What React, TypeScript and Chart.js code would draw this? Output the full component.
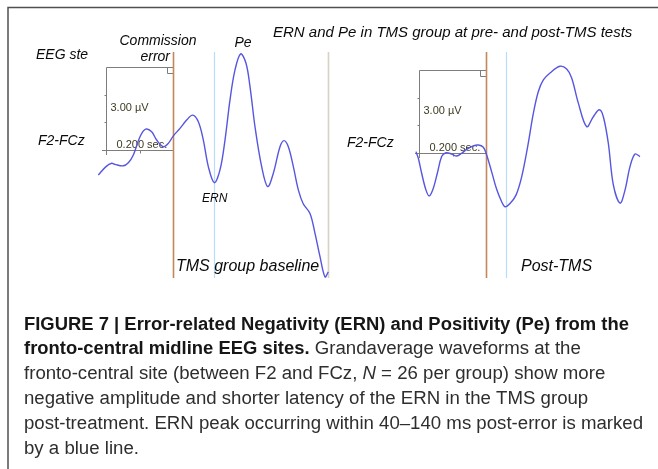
import React, { useEffect, useRef } from "react";
import { Chart, registerables } from "chart.js";

Chart.register(...registerables);

// ---- Data (time in ms relative to the commission error, amplitude in µV) ----
// TMS group baseline waveform (F2-FCz)
const baselineTime = [-224, -201, -184, -174, -149, -134, -119, -99, -82, -64, -49, -29, -14, 1, 21, 41, 59, 76, 91, 106, 124, 141, 156, 171, 186, 203, 219, 231, 246, 266, 284, 301, 321, 333, 346, 361, 376, 391, 411, 426, 441, 456, 466];
const baselineAmp = [-0.9, -0.6, -0.48, -0.52, -0.57, -0.46, -0.18, 0.48, 0.75, 0.66, 0.36, 0.12, 0.24, 0.51, 0.78, 1.08, 1.26, 1.02, 0.36, -0.6, -1.18, -0.72, 0.36, 1.81, 2.89, 3.47, 3.13, 2.29, 0.84, -0.6, -1.32, -0.84, 0.12, 0.34, 0.12, -0.6, -1.44, -1.95, -2.29, -3.01, -3.85, -4.58, -4.4];
// Post-TMS waveform (F2-FCz)
const postTime = [-210, -203, -193, -180, -170, -158, -146, -133, -120, -103, -88, -73, -58, -40, -23, -8, 2, 17, 32, 47, 57, 72, 90, 107, 125, 142, 157, 172, 192, 222, 242, 257, 277, 302, 322, 340, 352, 367, 382, 402, 417, 432, 447, 462];
const postAmp = [0.05, -0.19, -0.73, -1.34, -1.55, -1.27, -0.73, -0.13, 0.01, -0.04, -0.11, -0.01, 0.13, 0.25, 0.29, 0.21, -0.07, -0.68, -1.31, -1.76, -1.94, -1.82, -1.52, -0.86, 0.23, 1.43, 2.22, 2.64, 2.89, 3.13, 3.03, 2.71, 1.8, 0.95, 1.31, 1.56, 1.31, 0.35, -1.15, -1.81, -1.34, -0.49, -0.04, -0.13];

// Event markers (ms)
const commissionErrorTime = 0;
const ernPeakBaseline = 124;
const ernPeakPost = 60;
const baselineEndTime = 466;

// Calibration bar
const calibrationMs = 200;
const calibrationUv = 3;
const calibrationLabels = ["3.00 µV", "0.200 sec."];

// Texts
const figureTitle = "ERN and Pe in TMS group at pre- and post-TMS tests";
const panelLabels = ["TMS group baseline", "Post-TMS"];
const siteLabel = "F2-FCz";
const captionLines: { t: string; s: "b" | "r" | "i" }[][] = [
  [{ t: "FIGURE 7 | Error-related Negativity (ERN) and Positivity (Pe) from the", s: "b" }],
  [{ t: "fronto-central midline EEG sites.", s: "b" }, { t: " Grandaverage waveforms at the", s: "r" }],
  [{ t: "fronto-central site (between F2 and FCz, ", s: "r" }, { t: "N", s: "i" }, { t: " = 26 per group) show more", s: "r" }],
  [{ t: "negative amplitude and shorter latency of the ERN in the TMS group", s: "r" }],
  [{ t: "post-treatment. ERN peak occurring within 40–140 ms post-error is marked", s: "r" }],
  [{ t: "by a blue line.", s: "r" }],
];

// ---- Geometry of the figure ----
const W = 658;
const H = 469;
const MS_PER_PX = 3;
const PX_PER_UV = 27.7;
const LEFT_ZERO_PX = 173;
const LEFT_BASE_PX = 150;
const RIGHT_ZERO_PX = 486;
const RIGHT_BASE_PX = 153;

const FONT = '"Liberation Sans", Arial, Helvetica, sans-serif';

function toPoints(t: number[], v: number[]) {
  return t.map((x, i) => ({ x, y: v[i] }));
}

function drawPanel(ctx: CanvasRenderingContext2D, xs: any, ys: any, ernT: number, endT: number | null) {
  const top = 52;
  const bottom = 278;
  const vline = (t: number, color: string, w: number) => {
    const px = Math.round(xs.getPixelForValue(t)) + 0.5;
    ctx.strokeStyle = color;
    ctx.lineWidth = w;
    ctx.beginPath();
    ctx.moveTo(px, top);
    ctx.lineTo(px, bottom);
    ctx.stroke();
  };
  // calibration box
  const bx0 = Math.round(xs.getPixelForValue(commissionErrorTime - calibrationMs)) + 0.5;
  const bx1 = Math.round(xs.getPixelForValue(commissionErrorTime)) + 0.5;
  const by0 = Math.round(ys.getPixelForValue(0)) + 0.5;
  const by1 = Math.round(ys.getPixelForValue(calibrationUv)) + 0.5;
  ctx.strokeStyle = "#7d7d7d";
  ctx.lineWidth = 1;
  ctx.beginPath();
  ctx.moveTo(Math.round(xs.getPixelForValue(commissionErrorTime - calibrationMs * 1.065)), by0);
  ctx.lineTo(bx1, by0);
  ctx.lineTo(bx1, by1);
  ctx.lineTo(bx0, by1);
  ctx.lineTo(bx0, ys.getPixelForValue(-0.18));
  ctx.stroke();
  // ticks
  ctx.beginPath();
  for (let k = 1; k < calibrationUv; k++) {
    const ty = Math.round(ys.getPixelForValue(k)) + 0.5;
    ctx.moveTo(bx0 - 2, ty);
    ctx.lineTo(bx0, ty);
  }
  const mx = Math.round(xs.getPixelForValue(commissionErrorTime - calibrationMs / 2)) + 0.5;
  ctx.moveTo(mx, by0);
  ctx.lineTo(mx, by0 + 3);
  // small square in the corner
  ctx.moveTo(bx1 - 6, by1);
  ctx.lineTo(bx1 - 6, by1 + 6);
  ctx.lineTo(bx1, by1 + 6);
  ctx.stroke();
  // calibration labels
  ctx.fillStyle = "#3e3b22";
  ctx.font = `11px ${FONT}`;
  ctx.textBaseline = "middle";
  ctx.textAlign = "left";
  ctx.fillText(calibrationLabels[0], bx0 + 4, ys.getPixelForValue(calibrationUv / 2));
  ctx.fillText(calibrationLabels[1], bx0 + 10, by0 - 6);

  vline(commissionErrorTime, "#c4875c", 1.6);
  vline(ernT, "#b9ddf6", 1.2);
  if (endT !== null) vline(endT, "#d9d1c3", 1.6);
}

const figurePlugin = {
  id: "figure",
  beforeDatasetsDraw(chart: any) {
    const ctx: CanvasRenderingContext2D = chart.ctx;
    const s = chart.scales;
    ctx.save();
    // frame
    ctx.strokeStyle = "#505050";
    ctx.lineWidth = 1.5;
    ctx.beginPath();
    ctx.moveTo(8, H);
    ctx.lineTo(8, 7.5);
    ctx.lineTo(W, 7.5);
    ctx.stroke();
    drawPanel(ctx, s.x, s.y, ernPeakBaseline, baselineEndTime);
    drawPanel(ctx, s.x2, s.y2, ernPeakPost, null);
    ctx.restore();
  },
  afterDatasetsDraw(chart: any) {
    const ctx: CanvasRenderingContext2D = chart.ctx;
    ctx.save();
    ctx.fillStyle = "#0a0a0a";
    ctx.textBaseline = "middle";
    const it = (size: number) => `italic ${size}px ${FONT}`;
    const put = (text: string, x: number, y: number, size: number, align: CanvasTextAlign = "left") => {
      ctx.font = it(size);
      ctx.textAlign = align;
      ctx.fillText(text, x, y);
    };
    put("EEG ste", 36, 55, 14);
    put("Commission", 158, 41, 14, "center");
    put("error", 170, 57, 14, "right");
    put("Pe", 243, 43, 14, "center");
    put(figureTitle, 273, 33, 15);
    put(siteLabel, 38, 141, 14);
    put(siteLabel, 347, 143, 14);
    put("ERN", 202, 199, 12);
    put(panelLabels[0], 176, 267, 16);
    put(panelLabels[1], 521, 267, 16);

    // caption
    const fontOf = (st: string) =>
      st === "b" ? `bold 18px ${FONT}` : st === "i" ? `italic 18px ${FONT}` : `18px ${FONT}`;
    const measureLine = (line: { t: string; s: string }[]) =>
      line.reduce((acc, seg) => {
        ctx.font = fontOf(seg.s);
        return acc + ctx.measureText(seg.t).width;
      }, 0);
    const x0 = 24;
    const sxB = (629 - x0) / measureLine(captionLines[0]);
    const sxR = (643 - x0) / measureLine(captionLines[4]);
    ctx.textAlign = "left";
    ctx.textBaseline = "alphabetic";
    captionLines.forEach((line, i) => {
      const by = 329.5 + i * 24.8;
      let cx = x0;
      line.forEach((seg) => {
        ctx.font = fontOf(seg.s);
        const sx = seg.s === "b" ? sxB : sxR;
        ctx.fillStyle = seg.s === "b" ? "#161616" : "#2e2e2e";
        ctx.save();
        ctx.translate(cx, by);
        ctx.scale(sx, 1);
        ctx.fillText(seg.t, 0, 0);
        ctx.restore();
        cx += ctx.measureText(seg.t).width * sx;
      });
    });
    ctx.restore();
  },
};

export default function App() {
  const ref = useRef<HTMLCanvasElement>(null);
  useEffect(() => {
    if (!ref.current) return;
    const xRange = (zero: number) => ({ min: -zero * MS_PER_PX, max: (W - zero) * MS_PER_PX });
    const yRange = (base: number) => ({ min: (base - H) / PX_PER_UV, max: base / PX_PER_UV });
    const lineStyle = {
      borderColor: "#5656e0",
      borderWidth: 1.4,
      pointRadius: 0,
      tension: 0.35,
      fill: false,
    };
    const chart = new Chart(ref.current, {
      type: "line",
      data: {
        datasets: [
          { label: panelLabels[0], data: toPoints(baselineTime, baselineAmp), xAxisID: "x", yAxisID: "y", ...lineStyle },
          { label: panelLabels[1], data: toPoints(postTime, postAmp), xAxisID: "x2", yAxisID: "y2", ...lineStyle },
        ],
      },
      options: {
        animation: false,
        responsive: false,
        maintainAspectRatio: false,
        devicePixelRatio: 1,
        layout: { padding: 0 },
        plugins: { legend: { display: false }, tooltip: { enabled: false } },
        scales: {
          x: { type: "linear", display: false, ...xRange(LEFT_ZERO_PX) },
          x2: { type: "linear", display: false, ...xRange(RIGHT_ZERO_PX) },
          y: { type: "linear", display: false, ...yRange(LEFT_BASE_PX) },
          y2: { type: "linear", display: false, ...yRange(RIGHT_BASE_PX) },
        },
      },
      plugins: [figurePlugin],
    } as any);
    return () => chart.destroy();
  }, []);
  return (
    <div style={{ position: "fixed", left: 0, top: 0, width: W, height: H, background: "#fff" }}>
      <canvas ref={ref} width={W} height={H} style={{ display: "block", width: W, height: H }} />
    </div>
  );
}
